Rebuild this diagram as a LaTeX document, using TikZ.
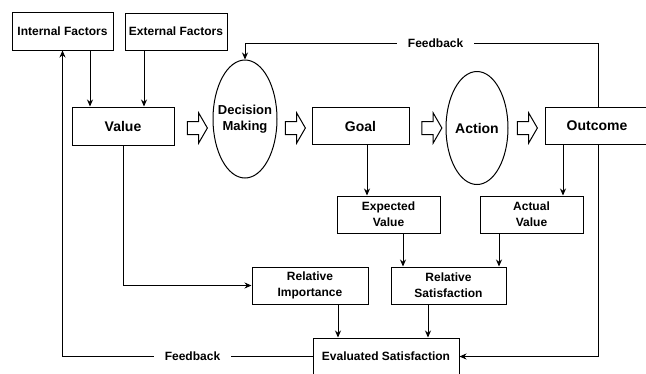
\documentclass[tikz,border=0pt]{standalone}
\usepackage{fontspec}
\setmainfont{Liberation Sans}
\usetikzlibrary{shapes.geometric, shapes.arrows, arrows.meta}

\tikzset{
    box/.style={draw, line width=1pt, align=center, font=\bfseries\fontsize{12}{16}\selectfont},
    bigbox/.style={box, font=\bfseries\fontsize{14}{16}\selectfont},
    oval/.style={draw, ellipse, line width=1pt, align=center, inner sep=-8pt, font=\bfseries\fontsize{14}{16}\selectfont},
    arr/.style={line width=0.9pt, -{Stealth[length=7pt, width=6pt]}},
    flow/.style={draw, line width=1pt, single arrow, inner xsep=0pt, inner ysep=6pt, minimum height=20pt,
        single arrow head extend=8.5pt, single arrow tip angle=120},
    fb/.style={fill=white, inner xsep=11pt, font=\bfseries\fontsize{12}{14}\selectfont}
}

\begin{document}
\begin{tikzpicture}[x=1pt, y=-1pt]
        \useasboundingbox (0, 0) rectangle (646, 373);

        % top row
        \node[box, minimum width=101pt, minimum height=38pt] (int) at (62.5, 31) {Internal Factors};
        \node[box, minimum width=102pt, minimum height=37pt] (ext) at (176, 31.5) {External Factors};

        % main chain
        \node[bigbox, minimum width=102pt, minimum height=38pt] (val) at (123, 126) {Value};
        \node[oval, minimum width=64pt, minimum height=118pt, font=\bfseries\fontsize{13}{16}\selectfont] (dm) at (245, 119) {Decision\\Making};
        \node[bigbox, minimum width=97pt, minimum height=37pt] (goal) at (360.5, 126) {Goal};
        \node[oval, minimum width=62pt, minimum height=113pt] (act) at (477, 128) {Action};
        \node[bigbox, minimum width=104pt, minimum height=37pt] (out) at (597, 126) {Outcome};

        \node[flow] (f1) at (195.5, 128) {};
        \node[flow] (f2) at (293.5, 128) {};
        \node[flow] (f3) at (430, 128) {};
        \node[flow] (f4) at (525.5, 128) {};

        % evaluation part
        \node[box, minimum width=103pt, minimum height=37pt] (exp) at (388.5, 214.5) {Expected\\Value};
        \node[box, minimum width=103pt, minimum height=37pt] (actv) at (531.5, 214.5) {Actual\\Value};
        \node[box, minimum width=116pt, minimum height=37pt] (imp) at (310, 285.5) {Relative\\Importance};
        \node[box, minimum width=115pt, minimum height=37pt] (sat) at (448.5, 285.5) {Relative\\Satisfaction};
        \node[box, minimum width=146pt, minimum height=37pt] (eval) at (386, 356.5) {Evaluated Satisfaction};

        \coordinate (xa) at (90, 0);
        \coordinate (xb) at (144, 0);
        \coordinate (xc) at (367, 0);
        \coordinate (xd) at (563, 0);
        \coordinate (xe) at (403, 0);
        \coordinate (xf) at (499, 0);
        \coordinate (xg) at (338, 0);
        \coordinate (xh) at (428, 0);
        \coordinate (xr) at (598, 0);
        \coordinate (fbtop) at (0, 43);

        \draw[arr] (int.south -| xa) -- (val.north -| xa);
        \draw[arr] (ext.south -| xb) -- (val.north -| xb);
        \draw[arr] (goal.south -| xc) -- (exp.north -| xc);
        \draw[arr] (out.south -| xd) -- (actv.north -| xd);
        \draw[arr] (exp.south -| xe) -- (sat.north -| xe);
        \draw[arr] (actv.south -| xf) -- (sat.north -| xf);
        \draw[arr] (imp.south -| xg) -- (eval.north -| xg);
        \draw[arr] (sat.south -| xh) -- (eval.north -| xh);
        \draw[arr] (val.south) |- (imp.west);

        % feedback loops
        \draw[arr] (out.north -| xr) -- (xr |- fbtop) -- node[fb, pos=0.46] {Feedback} (dm.north |- fbtop) -- (dm.north);
        \draw[arr] (out.south -| xr) |- (eval.east);
        \draw[arr] (eval.west) -| node[fb, pos=0.24] {Feedback} (int.south);
    \end{tikzpicture}
\end{document}
